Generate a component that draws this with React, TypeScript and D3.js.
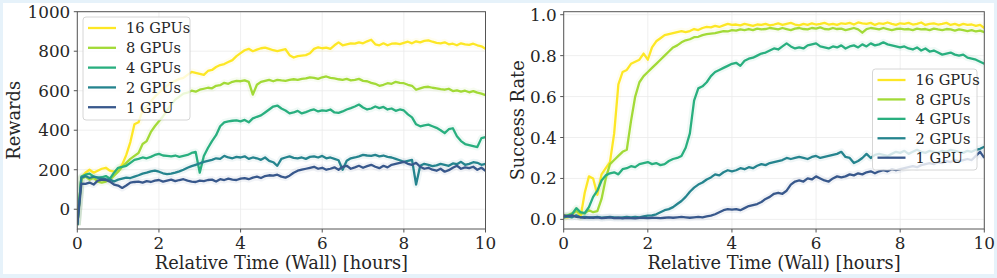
import * as d3 from 'd3'

// sample grid in hours (one reading every 6 minutes)
const hours = d3.range(0, 101).map(i => i / 10)

const seriesNames = ['16 GPUs', '8 GPUs', '4 GPUs', '2 GPUs', '1 GPU']
const seriesColors = [1.0, 0.86, 0.63, 0.45, 0.27].map(d3.interpolateViridis)

const rewardTicks = [0, 200, 400, 600, 800, 1000]
const successTicks = [0, 0.2, 0.4, 0.6, 0.8, 1.0]
const hourTicks = [0, 2, 4, 6, 8, 10]

const rewards16 = [
  -80, 160, 185, 200, 185, 195, 205, 210, 195, 190,
  200, 225, 275, 340, 430, 440, 500, 520, 545, 570,
  590, 610, 625, 640, 650, 660, 665, 680, 695, 690,
  685, 680, 700, 705, 720, 730, 735, 745, 755, 775,
  790, 805, 812, 800, 808, 815, 818, 812, 805, 800,
  805, 810, 780, 768, 775, 778, 780, 790, 812, 820,
  815, 818, 812, 830, 845, 830, 835, 840, 838, 845,
  840, 850, 858, 835, 830, 840, 830, 838, 840, 836,
  842, 848, 840, 850, 845, 852, 855, 848, 842, 840,
  845, 835, 838, 830, 840, 835, 832, 838, 830, 825,
  812
]
const rewards8 = [
  -80, 155, 165, 150, 160, 140, 135, 140, 150, 170,
  190, 215, 235, 255, 270, 285, 330, 345, 390, 420,
  445, 470, 500, 530, 555, 570, 585, 590, 600, 595,
  605, 610, 615, 612, 625, 628, 640, 635, 645, 650,
  648, 652, 645, 580, 630, 645, 650, 655, 648, 655,
  652, 650, 655, 658, 655, 660, 662, 668, 665, 660,
  668, 672, 665, 662, 658, 655, 660, 652, 655, 660,
  650, 648, 640, 635, 625, 630, 638, 635, 645, 640,
  638, 630, 625, 605, 612, 618, 620, 615, 612, 608,
  605, 610, 598, 602, 595, 600, 592, 598, 590, 585,
  578
]
const rewards4 = [
  -80, 165, 175, 180, 165, 160, 162, 168, 155, 185,
  210, 215, 220, 235, 250, 255, 262, 258, 265, 275,
  280, 272, 270, 268, 272, 265, 270, 275, 285, 290,
  185, 270, 310, 345, 375, 420, 440, 445, 448, 450,
  445, 452, 440, 460, 468, 475, 490, 505, 520, 525,
  510, 500, 485, 490, 498, 485, 492, 500, 505, 495,
  500, 498, 505, 490, 488, 495, 505, 512, 520, 530,
  515, 505, 510, 520, 512, 518, 505, 510, 498, 505,
  500, 480, 465, 430, 420, 425, 428, 420, 412, 400,
  385, 405, 410, 370, 345, 330, 325, 320, 315, 360,
  365
]
const rewards2 = [
  -80, 160, 168, 158, 165, 160, 155, 152, 150, 140,
  150, 155, 160, 158, 165, 172, 180, 185, 192, 195,
  190, 182, 178, 180, 185, 192, 200, 210, 218, 225,
  232, 240, 245, 250, 258, 255, 270, 262, 258, 265,
  262, 268, 255, 262, 258, 250, 262, 245, 238, 220,
  255, 262, 268, 260, 258, 262, 255, 265, 268, 262,
  270, 258, 262, 255, 248, 200, 245, 258, 262, 268,
  275, 272, 270, 275, 268, 272, 265, 262, 255, 248,
  240, 245, 250, 125, 220, 230, 225, 218, 222, 230,
  225, 220, 232, 228, 240, 225, 230, 238, 235, 225,
  230
]
const rewards1 = [
  -80, 130, 128, 135, 125, 145, 150, 148, 140, 125,
  120, 108, 120, 135, 138, 140, 135, 142, 138, 145,
  148, 140, 145, 150, 142, 148, 152, 145, 140, 138,
  145, 142, 148, 150, 140, 152, 148, 155, 150, 148,
  155, 158, 152, 160, 165, 158, 168, 172, 170, 175,
  165, 160, 170, 185, 195, 200, 205, 210, 215, 205,
  210, 200, 205, 212, 200, 215, 220, 205, 212, 220,
  210, 218, 225, 215, 208, 220, 212, 225, 230, 235,
  240, 230, 225, 235, 215, 205, 210, 200, 195, 205,
  190, 198, 210, 220, 205, 212, 208, 215, 200, 210,
  195
]

const success16 = [
  0.01, 0.01, 0.02, 0.05, 0.01, 0.13, 0.21, 0.2, 0.12, 0.22,
  0.25, 0.28, 0.42, 0.66, 0.72, 0.73, 0.76, 0.77, 0.78, 0.81,
  0.78, 0.84, 0.87, 0.885, 0.9, 0.905, 0.91, 0.915, 0.92, 0.915,
  0.92, 0.93, 0.925, 0.935, 0.94, 0.938, 0.945, 0.94, 0.948, 0.955,
  0.95, 0.952, 0.948, 0.955, 0.95, 0.945, 0.952, 0.95, 0.955, 0.948,
  0.952, 0.958, 0.95, 0.955, 0.96, 0.952, 0.948, 0.955, 0.95, 0.958,
  0.952, 0.955, 0.96, 0.952, 0.955, 0.95, 0.958, 0.955, 0.96, 0.952,
  0.962, 0.958, 0.955, 0.96, 0.95, 0.958, 0.955, 0.962, 0.955, 0.95,
  0.958, 0.955, 0.96, 0.952, 0.955, 0.962, 0.95, 0.955, 0.958, 0.952,
  0.955, 0.96, 0.95, 0.955, 0.948, 0.955, 0.95, 0.952, 0.945, 0.95,
  0.935
]
const success8 = [
  0.02, 0.02, 0.03, 0.04, 0.03, 0.03, 0.045, 0.035, 0.04, 0.1,
  0.2, 0.27, 0.29, 0.31, 0.33, 0.34, 0.48, 0.6, 0.67, 0.7,
  0.72, 0.74, 0.76, 0.78, 0.8, 0.82, 0.84, 0.85, 0.865, 0.875,
  0.88, 0.89, 0.892, 0.9, 0.905, 0.908, 0.91, 0.915, 0.92, 0.918,
  0.925, 0.922, 0.928, 0.925, 0.93, 0.925, 0.932, 0.928, 0.93, 0.935,
  0.932, 0.928, 0.935, 0.93, 0.925, 0.932, 0.935, 0.93, 0.928, 0.935,
  0.932, 0.938, 0.93, 0.928, 0.935, 0.93, 0.932, 0.925, 0.93, 0.935,
  0.928, 0.912, 0.93, 0.935, 0.932, 0.928, 0.935, 0.93, 0.925, 0.93,
  0.932, 0.928, 0.93, 0.925, 0.932, 0.928, 0.93, 0.925, 0.932, 0.928,
  0.925, 0.93, 0.928, 0.922, 0.928, 0.925, 0.92, 0.925, 0.918, 0.922,
  0.915
]
const success4 = [
  0.01, 0.02, 0.025, 0.055, 0.035, 0.03, 0.06, 0.11, 0.14, 0.19,
  0.215, 0.225, 0.23, 0.22, 0.245, 0.25, 0.26, 0.255, 0.27, 0.275,
  0.28, 0.27, 0.275, 0.265, 0.27, 0.285, 0.295, 0.3, 0.31, 0.35,
  0.42, 0.58, 0.64, 0.65, 0.67, 0.7, 0.72, 0.73, 0.74, 0.75,
  0.76, 0.765, 0.75, 0.775, 0.785, 0.79, 0.8, 0.81, 0.815, 0.825,
  0.835, 0.83, 0.845, 0.86, 0.845, 0.835, 0.84, 0.835, 0.85, 0.855,
  0.86, 0.845, 0.84, 0.835, 0.845, 0.84, 0.85, 0.835, 0.845, 0.85,
  0.84, 0.855, 0.845, 0.86, 0.85, 0.855, 0.865, 0.855, 0.85, 0.845,
  0.84, 0.845, 0.835, 0.83, 0.84, 0.825, 0.835, 0.82, 0.825, 0.815,
  0.805, 0.81, 0.815, 0.805, 0.8, 0.805, 0.79, 0.785, 0.78, 0.77,
  0.76
]
const success2 = [
  0.01, 0.015, 0.01, 0.02, 0.01, 0.012, 0.008, 0.01, 0.012, 0.008,
  0.01, 0.012, 0.01, 0.008, 0.01, 0.012, 0.01, 0.012, 0.01, 0.015,
  0.018, 0.02, 0.025, 0.035, 0.045, 0.05, 0.06, 0.075, 0.09, 0.11,
  0.135, 0.155, 0.17, 0.18, 0.195, 0.205, 0.22, 0.215, 0.23, 0.24,
  0.235, 0.24, 0.25, 0.245, 0.255, 0.25, 0.262, 0.27, 0.265, 0.275,
  0.28, 0.285, 0.29, 0.3, 0.295, 0.3, 0.305, 0.3, 0.295, 0.305,
  0.31, 0.3, 0.305, 0.31, 0.315, 0.32, 0.33, 0.305, 0.3, 0.275,
  0.285, 0.3, 0.32, 0.3, 0.315, 0.32, 0.315, 0.31, 0.32, 0.33,
  0.325, 0.335, 0.32, 0.33, 0.34, 0.33, 0.325, 0.335, 0.33, 0.325,
  0.335, 0.33, 0.34, 0.335, 0.33, 0.325, 0.335, 0.33, 0.34, 0.345,
  0.355
]
const success1 = [
  0.02, 0.015, 0.02, 0.012, 0.01, 0.008, 0.01, 0.008, 0.01, 0.006,
  0.008, 0.01, 0.006, 0.008, 0.005, 0.007, 0.006, 0.005, 0.007, 0.008,
  0.006, 0.008, 0.007, 0.006, 0.008, 0.01, 0.008, 0.01, 0.012, 0.01,
  0.008, 0.01, 0.012, 0.01, 0.015, 0.018, 0.025, 0.035, 0.045, 0.05,
  0.048, 0.05, 0.045, 0.055, 0.065, 0.07, 0.075, 0.085, 0.1, 0.11,
  0.125, 0.13, 0.125, 0.14, 0.17, 0.185, 0.19, 0.185, 0.2, 0.195,
  0.21, 0.2, 0.19, 0.185, 0.2, 0.21, 0.205, 0.21, 0.22, 0.215,
  0.225, 0.22, 0.23, 0.235, 0.225, 0.235, 0.24, 0.235, 0.245, 0.24,
  0.245, 0.25, 0.255, 0.26, 0.255, 0.265, 0.27, 0.275, 0.27, 0.28,
  0.275, 0.285, 0.28, 0.29, 0.285, 0.29, 0.295, 0.29, 0.31, 0.33,
  0.3
]

const rewardSeries = [rewards16, rewards8, rewards4, rewards2, rewards1]
const successSeries = [success16, success8, success4, success2, success1]

const FONT = "'DejaVu Serif', serif"
const TEXT = '#262626'
const SPINE = '#555555'
const GRID = '#ebebeb'

interface PanelProps {
  id: string
  x0: number
  x1: number
  yDomain: [number, number]
  yTicks: number[]
  yFormat: (v: number) => string
  yLabel: string
  yLabelX: number
  series: number[][]
  legend: { x: number; y: number; w: number; h: number }
}

function Panel({ id, x0, x1, yDomain, yTicks, yFormat, yLabel, yLabelX, series, legend }: PanelProps) {
  const top = 11.7
  const bottom = 229
  const x = d3.scaleLinear().domain([0, 10]).range([x0, x1])
  const y = d3.scaleLinear().domain(yDomain).range([bottom, top])

  const line = d3.line<number>()
    .x((_, i) => x(hours[i]))
    .y(d => y(d))

  const rowGap = legend.h / 5.2

  return (
    <g style={{ fontFamily: FONT }}>
      <defs>
        <clipPath id={id}>
          <rect x={x0} y={top} width={x1 - x0} height={bottom - top} />
        </clipPath>
      </defs>
      {/* grid */}
      {hourTicks.map(t => (
        <line key={'gx' + t} x1={x(t)} x2={x(t)} y1={top} y2={bottom} stroke={GRID} strokeWidth={0.8} />
      ))}
      {yTicks.map(t => (
        <line key={'gy' + t} x1={x0} x2={x1} y1={y(t)} y2={y(t)} stroke={GRID} strokeWidth={0.8} />
      ))}
      {/* faint spread + mean lines */}
      <g clipPath={`url(#${id})`}>
        {series.map((s, i) => (
          <path key={'b' + i} d={line(s) ?? ''} fill="none" stroke={seriesColors[i]}
            strokeWidth={7} strokeOpacity={0.07} strokeLinejoin="round" />
        ))}
        {series.map((s, i) => (
          <path key={'l' + i} d={line(s) ?? ''} fill="none" stroke={seriesColors[i]}
            strokeWidth={2.3} strokeLinejoin="round" />
        ))}
      </g>
      {/* spines */}
      <rect x={x0} y={top} width={x1 - x0} height={bottom - top} fill="none" stroke={SPINE} strokeWidth={1} />
      {/* x ticks */}
      {hourTicks.map(t => (
        <g key={'xt' + t}>
          <line x1={x(t)} x2={x(t)} y1={bottom} y2={bottom + 3.5} stroke={SPINE} />
          <text x={x(t)} y={248.8} textAnchor="middle" fontSize={16.8} fill={TEXT}>{t}</text>
        </g>
      ))}
      {/* y ticks */}
      {yTicks.map(t => (
        <g key={'yt' + t}>
          <line x1={x0 - 3.5} x2={x0} y1={y(t)} y2={y(t)} stroke={SPINE} />
          <text x={x0 - 7} y={y(t) + 6} textAnchor="end" fontSize={16.8} fill={TEXT}>{yFormat(t)}</text>
        </g>
      ))}
      <text x={(x0 + x1) / 2} y={269.3} textAnchor="middle" fontSize={17.8} fill={TEXT}>
        Relative Time (Wall) [hours]
      </text>
      <text transform={`translate(${yLabelX},${(top + bottom) / 2}) rotate(-90)`} textAnchor="middle"
        fontSize={17.8} fill={TEXT}>{yLabel}</text>
      {/* legend */}
      <rect x={legend.x} y={legend.y} width={legend.w} height={legend.h} rx={3}
        fill="#ffffff" fillOpacity={0.8} stroke="#cccccc" strokeWidth={0.8} />
      {seriesNames.map((name, i) => {
        const cy = legend.y + 11 + i * rowGap
        return (
          <g key={name}>
            <line x1={legend.x + 5} x2={legend.x + 33} y1={cy} y2={cy} stroke={seriesColors[i]} strokeWidth={2.3} />
            <text x={legend.x + 43} y={cy + 5.3} fontSize={14.6} fill={TEXT}>{name}</text>
          </g>
        )
      })}
    </g>
  )
}

export default function App() {
  return (
    <div style={{ position: 'fixed', left: 0, top: 0 }}>
      <svg width={997} height={278} viewBox="0 0 997 278" style={{ display: 'block' }}>
        <rect x={0} y={0} width={997} height={278} fill="#e6f2fa" />
        <rect x={3} y={3} width={991} height={271} fill="#ffffff" />
        <Panel
          id="clip-rewards"
          x0={77.3}
          x1={485.5}
          yDomain={[-100, 1000]}
          yTicks={rewardTicks}
          yFormat={d3.format('d')}
          yLabel="Rewards"
          yLabelX={20}
          series={rewardSeries}
          legend={{ x: 83, y: 17, w: 107, h: 103 }}
        />
        <Panel
          id="clip-success"
          x0={563.7}
          x1={984.3}
          yDomain={[-0.047, 1.0146]}
          yTicks={successTicks}
          yFormat={d3.format('.1f')}
          yLabel="Success Rate"
          yLabelX={523.5}
          series={successSeries}
          legend={{ x: 872.5, y: 69, w: 104.5, h: 101 }}
        />
      </svg>
    </div>
  )
}
